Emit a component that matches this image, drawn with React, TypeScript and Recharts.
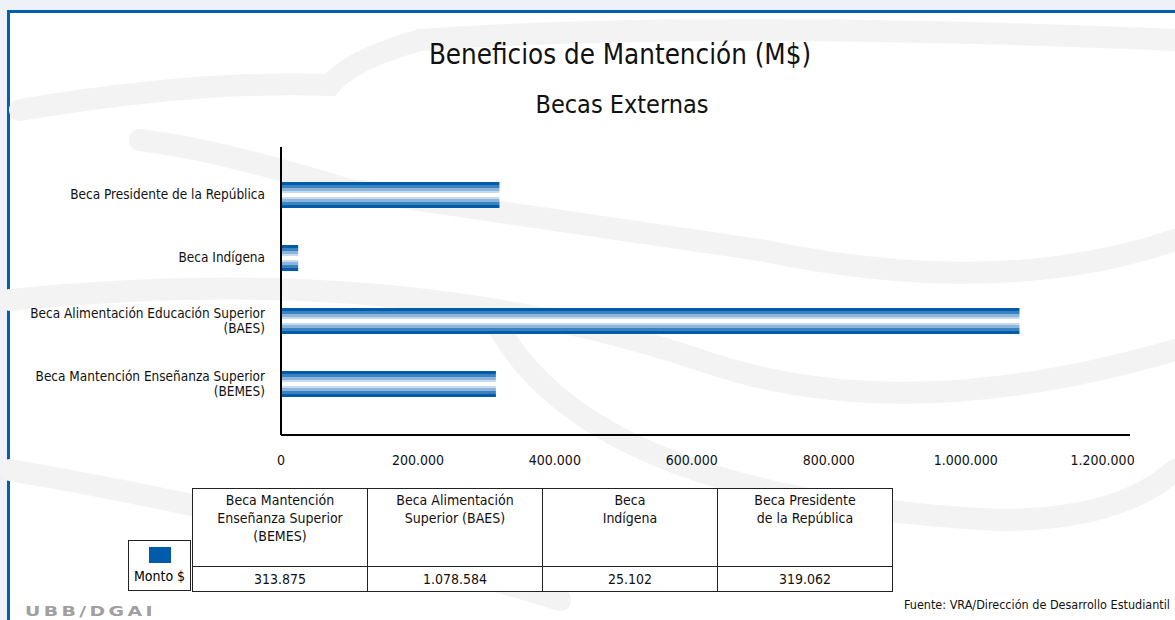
import React from 'react'
import { BarChart, Bar, XAxis, YAxis } from 'recharts'

const categories = [
  'Beca Presidente de la República',
  'Beca Indígena',
  'Beca Alimentación Educación Superior\n(BAES)',
  'Beca Mantención Enseñanza Superior\n(BEMES)',
]
const montos = [319062, 25102, 1078584, 313875]
const xTicks = [0, 200000, 400000, 600000, 800000, 1000000, 1200000]

// table under the chart (own order, as in the source)
const tableHeaders = [
  ['Beca Mantención', 'Enseñanza Superior', '(BEMES)'],
  ['Beca Alimentación', 'Superior (BAES)'],
  ['Beca', 'Indígena'],
  ['Beca Presidente', 'de la República'],
]
const tableValues = ['313.875', '1.078.584', '25.102', '319.062']
const seriesName = 'Monto $'

const data = categories.map((c, i) => ({ name: c, monto: montos[i] }))

const FONT = '"Liberation Sans Narrow", "Arial Narrow", "DejaVu Sans Condensed", sans-serif'
const BLUE = '#005BAA'

const fmt = (v: number) => v.toLocaleString('de-DE')

const YTick = (props: any) => {
  const { x, y, payload } = props
  const lines = String(payload.value).split('\n')
  const start = y - ((lines.length - 1) * 15) / 2
  return (
    <text x={x} y={start} textAnchor="end" fontFamily={FONT} fontSize={13.5} fill="#111">
      {lines.map((l: string, i: number) => (
        <tspan key={i} x={x} y={start + i * 15} dy="0.35em">
          {l}
        </tspan>
      ))}
    </text>
  )
}

const cell: React.CSSProperties = {
  border: '1px solid #222',
  textAlign: 'center',
  verticalAlign: 'top',
  padding: '2px 4px',
  lineHeight: '18px',
}

export default function App() {
  return (
    <div
      style={{
        position: 'relative',
        width: 1175,
        height: 620,
        background: '#eef2f8',
        overflow: 'hidden',
        fontFamily: FONT,
      }}
    >
      <style>{'body{margin:0}'}</style>
      <div
        style={{
          position: 'absolute',
          left: 7,
          top: 10,
          width: 1168,
          height: 610,
          background: '#fff',
          borderTop: '3px solid #0060B0',
          borderLeft: '3px solid #0060B0',
        }}
      />
      <svg width={1175} height={620} style={{ position: 'absolute', left: 0, top: 0 }}>
        <g fill="none" stroke="#f3f3f3" strokeWidth={22} strokeLinecap="round">
          <path d="M20 110 Q 200 80 330 85 Q 350 60 420 40 Q 700 20 1175 40" />
          <path d="M140 140 Q 220 150 350 190 L 760 250 Q 1000 300 1175 240" />
          <path d="M10 300 Q 400 260 700 360 Q 900 430 1175 350" />
          <path d="M500 330 Q 600 500 1000 520 Q 1120 520 1175 470" />
          <path d="M10 470 Q 300 520 560 600" />
        </g>
      </svg>
      <div
        style={{
          position: 'absolute',
          left: 0,
          width: 1240,
          top: 38,
          textAlign: 'center',
          fontSize: 27.5,
          color: '#111',
        }}
      >
        Beneficios de Mantención (M$)
      </div>
      <div
        style={{
          position: 'absolute',
          left: 0,
          width: 1244,
          top: 90,
          textAlign: 'center',
          fontSize: 25,
          color: '#111',
        }}
      >
        Becas Externas
      </div>
      <div style={{ position: 'absolute', left: 0, top: 0 }}>
        <BarChart
          width={1175}
          height={480}
          layout="vertical"
          data={data}
          margin={{ top: 147, right: 45, bottom: 5, left: 11 }}
        >
          <defs>
            <linearGradient id="barGrad" x1="0" y1="0" x2="0" y2="1">
              <stop offset="0" stopColor={BLUE} />
              <stop offset="0.12" stopColor={BLUE} />
              <stop offset="0.12" stopColor="#3b82c0" />
              <stop offset="0.24" stopColor="#3b82c0" />
              <stop offset="0.24" stopColor="#8db5dc" />
              <stop offset="0.36" stopColor="#8db5dc" />
              <stop offset="0.36" stopColor="#c7dbef" />
              <stop offset="0.44" stopColor="#c7dbef" />
              <stop offset="0.44" stopColor="#ffffff" />
              <stop offset="0.56" stopColor="#ffffff" />
              <stop offset="0.56" stopColor="#c7dbef" />
              <stop offset="0.64" stopColor="#c7dbef" />
              <stop offset="0.64" stopColor="#8db5dc" />
              <stop offset="0.76" stopColor="#8db5dc" />
              <stop offset="0.76" stopColor="#3b82c0" />
              <stop offset="0.88" stopColor="#3b82c0" />
              <stop offset="0.88" stopColor={BLUE} />
              <stop offset="1" stopColor={BLUE} />
            </linearGradient>
          </defs>
          <XAxis
            type="number"
            domain={[0, 1240000]}
            ticks={xTicks}
            tickFormatter={fmt}
            tickLine={false}
            tickSize={0}
            tickMargin={20}
            height={40}
            axisLine={{ stroke: '#000', strokeWidth: 2 }}
            tick={{ fontFamily: FONT, fontSize: 14, fill: '#111' }}
          />
          <YAxis
            type="category"
            dataKey="name"
            width={270}
            tickLine={false}
            tickSize={0}
            tickMargin={16}
            padding={{ top: 16, bottom: 20 }}
            axisLine={{ stroke: '#000', strokeWidth: 2 }}
            tick={<YTick />}
            interval={0}
          />
          <Bar dataKey="monto" barSize={26} fill="url(#barGrad)" isAnimationActive={false} />
        </BarChart>
      </div>
      <div
        style={{
          position: 'absolute',
          left: 128,
          top: 540,
          width: 61,
          height: 49,
          border: '1px solid #222',
          background: '#fff',
          fontSize: 14,
          textAlign: 'center',
        }}
      >
        <div style={{ width: 22, height: 16, background: BLUE, margin: '6px auto 4px' }} />
        <div style={{ lineHeight: '18px', whiteSpace: 'nowrap' }}>{seriesName}</div>
      </div>
      <table
        style={{
          position: 'absolute',
          left: 192,
          top: 488,
          borderCollapse: 'collapse',
          background: '#fff',
          fontSize: 14,
          color: '#111',
        }}
      >
        <tbody>
          <tr style={{ height: 78 }}>
            {tableHeaders.map((h, i) => (
              <td key={i} style={{ ...cell, width: 166 }}>
                {h.map((l, j) => (
                  <div key={j}>{l}</div>
                ))}
              </td>
            ))}
          </tr>
          <tr style={{ height: 25 }}>
            {tableValues.map((v, i) => (
              <td key={i} style={{ ...cell, verticalAlign: 'middle' }}>
                {v}
              </td>
            ))}
          </tr>
        </tbody>
      </table>
      <div
        style={{
          position: 'absolute',
          left: 25,
          top: 603,
          fontFamily: '"DejaVu Sans", sans-serif',
          fontSize: 14,
          fontWeight: 600,
          letterSpacing: 2.5,
          color: '#a0a0a0',
          transform: 'scaleX(1.35)',
          transformOrigin: 'left top',
          whiteSpace: 'nowrap',
        }}
      >
        UBB/DGAI
      </div>
      <div
        style={{
          position: 'absolute',
          right: 5,
          top: 597,
          fontSize: 12.5,
          color: '#111',
        }}
      >
        Fuente: VRA/Dirección de Desarrollo Estudiantil
      </div>
    </div>
  )
}
